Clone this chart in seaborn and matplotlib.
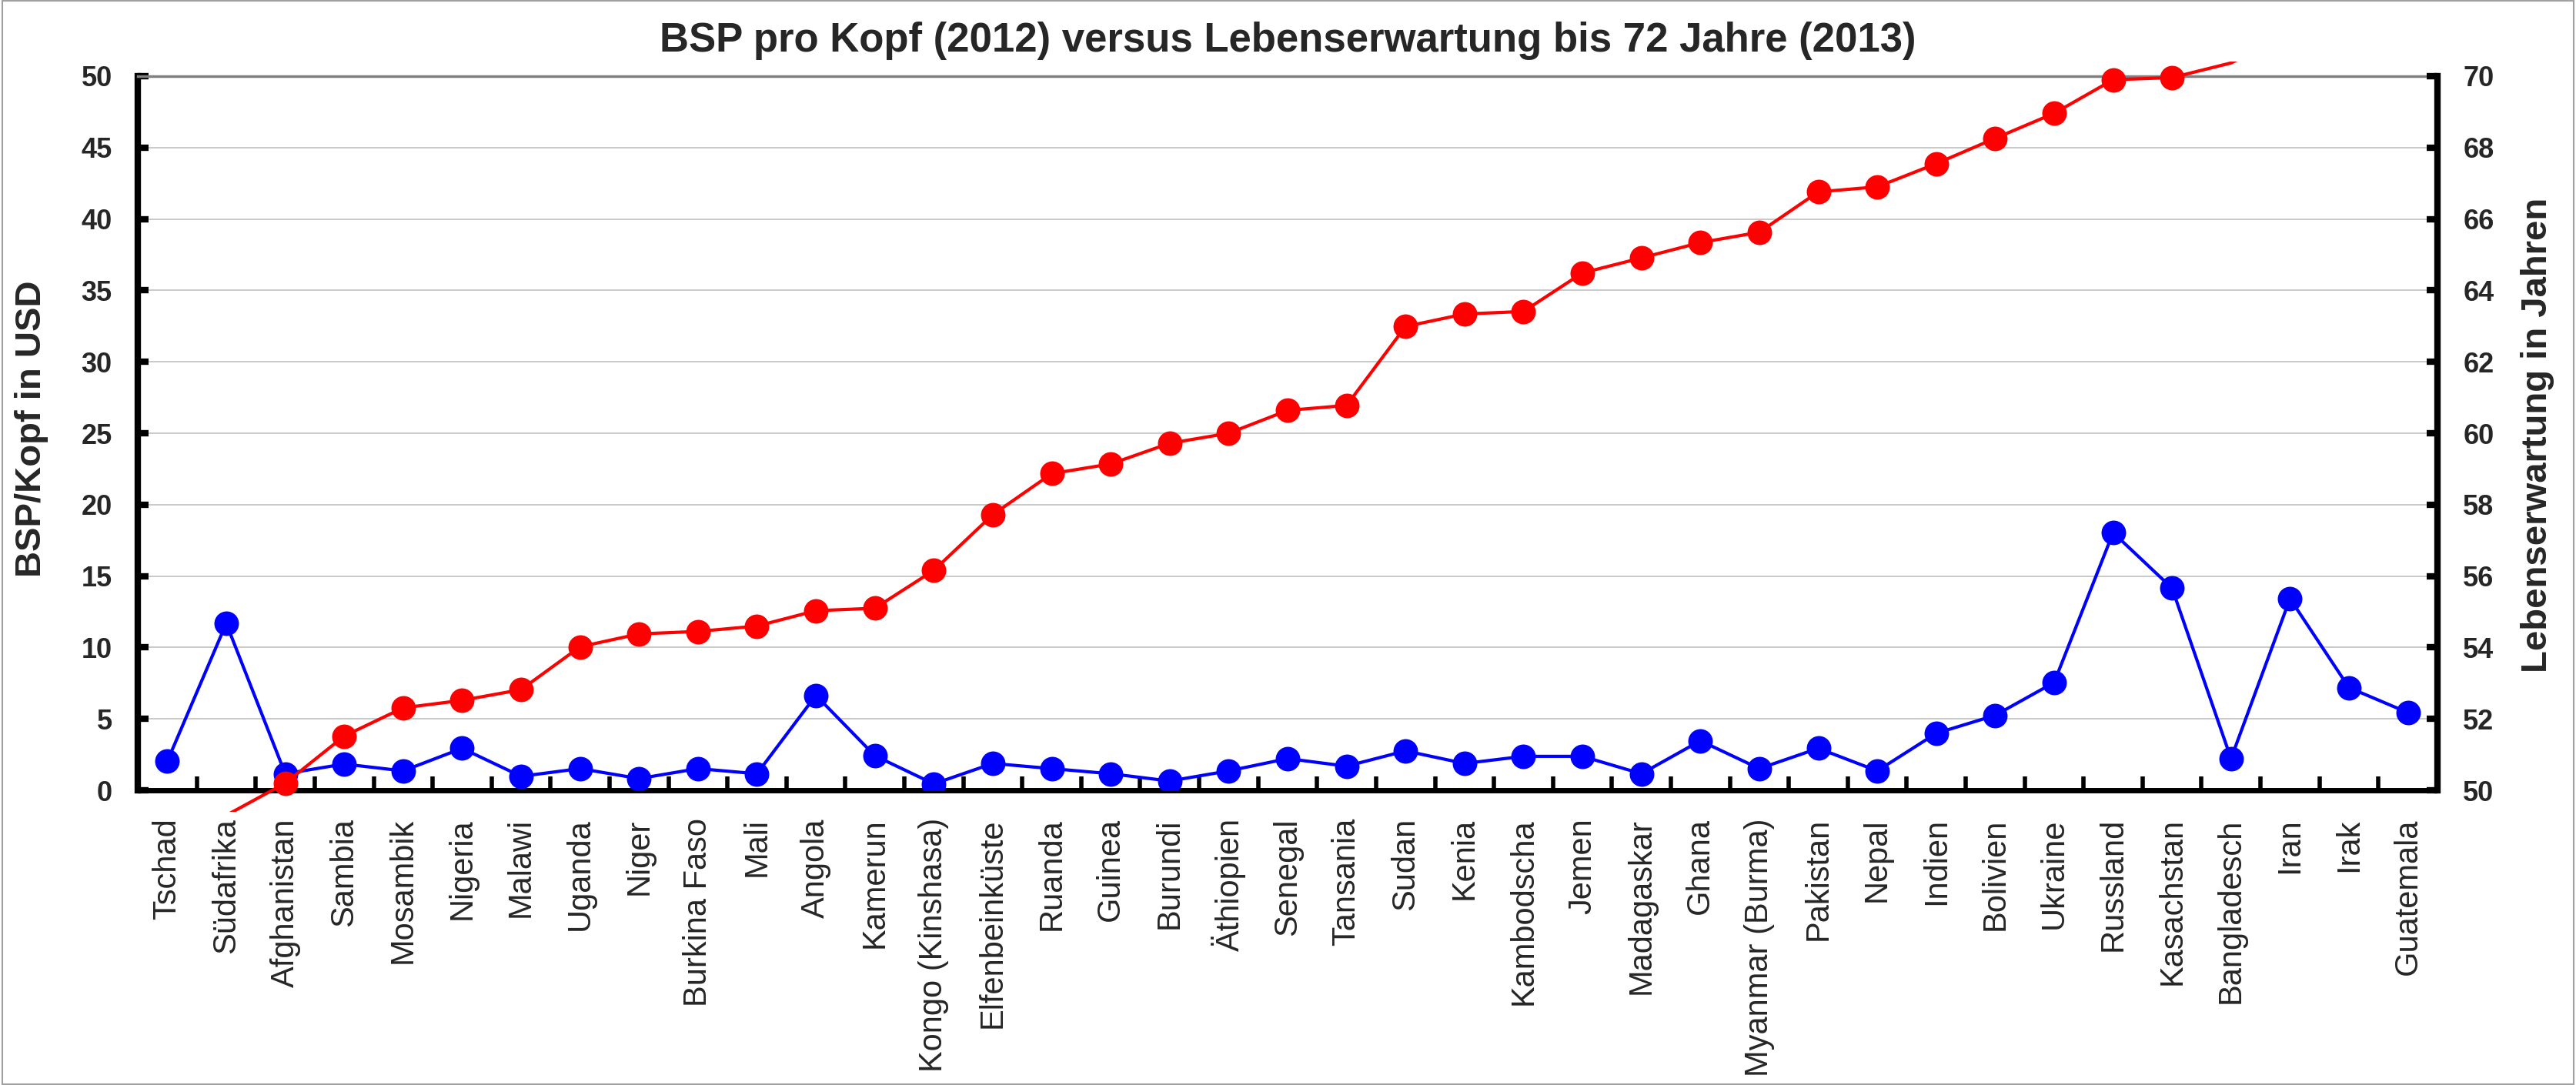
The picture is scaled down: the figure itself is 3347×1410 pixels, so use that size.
import numpy as np
import pandas as pd
import seaborn as sns
import matplotlib.pyplot as plt
from matplotlib.transforms import Bbox, TransformedBbox
from matplotlib.patches import Rectangle
from matplotlib.ticker import FixedLocator

countries = ['Tschad', 'Südafrika', 'Afghanistan', 'Sambia', 'Mosambik', 'Nigeria', 'Malawi',
             'Uganda', 'Niger', 'Burkina Faso', 'Mali', 'Angola', 'Kamerun', 'Kongo (Kinshasa)',
             'Elfenbeinküste', 'Ruanda', 'Guinea', 'Burundi', 'Äthiopien', 'Senegal', 'Tansania',
             'Sudan', 'Kenia', 'Kambodscha', 'Jemen', 'Madagaskar', 'Ghana', 'Myanmar (Burma)',
             'Pakistan', 'Nepal', 'Indien', 'Bolivien', 'Ukraine', 'Russland', 'Kasachstan',
             'Bangladesch', 'Iran', 'Irak', 'Guatemala']

# BSP pro Kopf (linke Achse)
bsp = [2.03, 11.69, 1.16, 1.84, 1.36, 2.94, 0.98, 1.52, 0.82, 1.52, 1.16, 6.65, 2.42, 0.45,
       1.88, 1.52, 1.16, 0.65, 1.36, 2.22, 1.69, 2.76, 1.88, 2.38, 2.38, 1.16, 3.47, 1.52,
       2.94, 1.36, 3.99, 5.25, 7.55, 18.04, 14.15, 2.22, 13.42, 7.19, 5.44]

# Lebenserwartung (rechte Achse)
lebenserwartung = [49.0, 49.3, 50.2, 51.52, 52.31, 52.52, 52.82, 54.02, 54.38, 54.45, 54.6,
                   55.03, 55.1, 56.16, 57.72, 58.87, 59.14, 59.72, 60.0, 60.64, 60.78, 62.99,
                   63.34, 63.41, 64.49, 64.91, 65.34, 65.63, 66.76, 66.9, 67.55, 68.26, 68.96,
                   69.9, 69.96, 70.37, 71.2, 71.6, 72.0]

left_ticks = list(range(0, 51, 5))
right_ticks = list(range(50, 71, 2))

sns.set_theme(style="white")
plt.rcParams['font.family'] = ['Liberation Sans', 'DejaVu Sans']

df = pd.DataFrame({'pos': np.arange(len(countries)), 'land': countries,
                   'bsp': bsp, 'le': lebenserwartung})

fig = plt.figure(figsize=(33.47, 14.10), dpi=100)
ax = fig.add_axes([0.0535, 0.2716, 0.8927, 0.6582])

sns.lineplot(data=df, x='pos', y='bsp', ax=ax, color='#0000FF', lw=3, marker='o',
             markersize=23, markeredgewidth=0, zorder=3)

ax.set_xlim(-0.5, len(countries) - 0.5)
ax.set_ylim(0, 50)
ax.set_xticks(df['pos'], labels=countries, rotation=90, fontsize=30)
ax.xaxis.set_minor_locator(FixedLocator(np.arange(0.5, len(countries) - 1, 1)))
ax.tick_params(axis='x', which='major', length=0, pad=26, bottom=True)
ax.tick_params(axis='x', which='minor', direction='in', length=13, width=4,
               color='black', bottom=True)
ax.set_yticks(left_ticks, labels=[str(t) for t in left_ticks], fontsize=26, fontweight='bold')
ax.tick_params(axis='y', direction='in', length=10, width=6, color='black', pad=24, left=True)
ax.yaxis.grid(True, color='#C0C0C0', lw=1.2)
ax.xaxis.grid(False)
ax.set_axisbelow(True)
ax.set_xlabel('')
ax.set_ylabel('BSP/Kopf in USD', fontsize=34, fontweight='bold', ha='center', va='center')
ax.yaxis.set_label_coords(-0.0462, 0.506)

for s in ['left', 'bottom']:
    ax.spines[s].set_color('black')
ax.spines['left'].set_linewidth(6)
ax.spines['bottom'].set_linewidth(5)
ax.spines['right'].set_visible(False)
ax.spines['top'].set_color('#808080')
ax.spines['top'].set_linewidth(2.5)

# zweite Achse: Lebenserwartung
ax2 = ax.twinx()
sns.lineplot(data=df, x='pos', y='le', ax=ax2, color='#FF0000', lw=3, zorder=3)
red_line = ax2.lines[-1]
red_line.set_clip_box(TransformedBbox(Bbox([[0, -0.03], [1, 1.02]]), ax2.transAxes))
df_in = df[(df['le'] >= 50) & (df['le'] <= 70)]
sns.scatterplot(data=df_in, x='pos', y='le', ax=ax2, color='#FF0000', s=529,
                linewidth=0, clip_on=False, zorder=4)

ax2.set_xlim(-0.5, len(countries) - 0.5)
ax2.set_ylim(50, 70)
ax2.set_yticks(right_ticks, labels=[str(t) for t in right_ticks], fontsize=26, fontweight='bold')
ax2.tick_params(axis='y', direction='in', length=10, width=6, color='black', pad=24,
                right=True, left=False)
ax2.grid(False)
ax2.set_xlabel('')
ax2.set_ylabel('Lebenserwartung in Jahren', fontsize=34, fontweight='bold')
ax2.yaxis.label.set_ha('center')
ax2.yaxis.label.set_va('center')
ax2.yaxis.set_label_coords(1.0435, 0.497)
for s in ['left', 'bottom', 'top']:
    ax2.spines[s].set_visible(False)
ax2.spines['right'].set_color('black')
ax2.spines['right'].set_linewidth(6)

fig.text(0.5, 1 - 53 / 1410, 'BSP pro Kopf (2012) versus Lebenserwartung bis 72 Jahre (2013)',
         ha='center', va='center', fontsize=38, fontweight='bold')

fig.patches.append(Rectangle((0.001, 0.001), 0.998, 0.998, transform=fig.transFigure,
                             fill=False, edgecolor='#A0A0A0', lw=1.5))

fig.savefig('out.png', dpi=100)
